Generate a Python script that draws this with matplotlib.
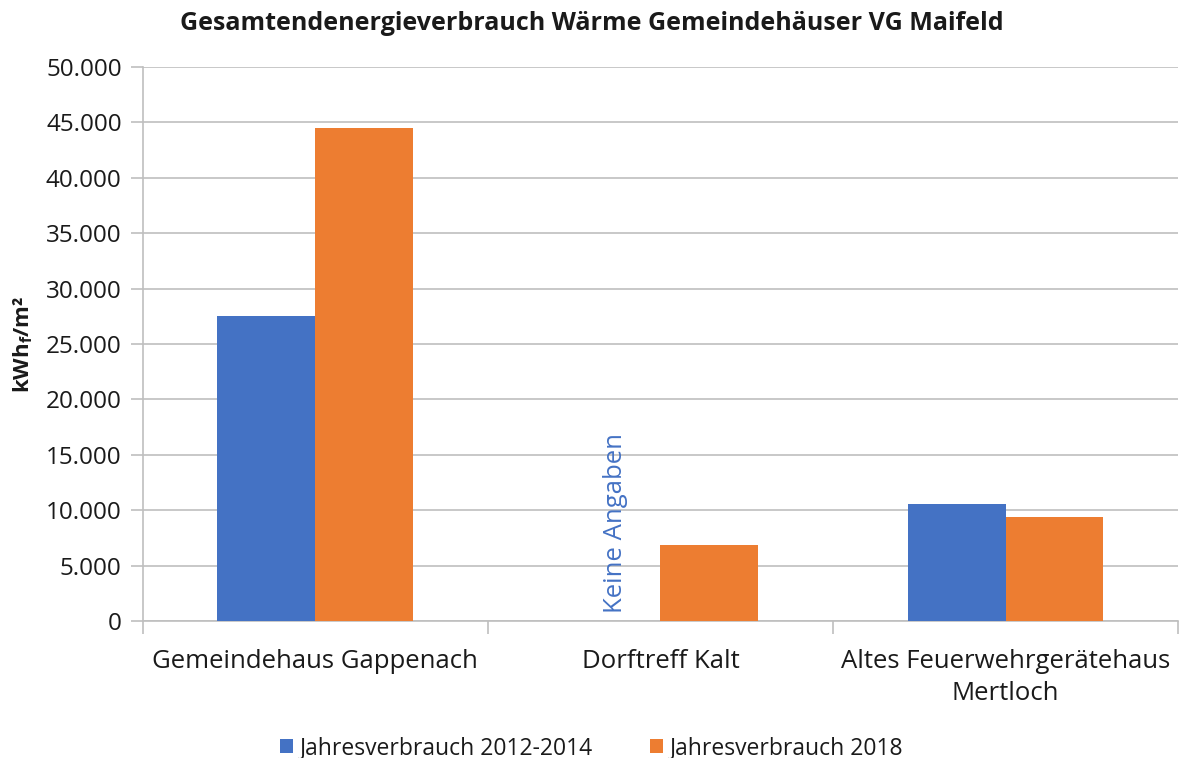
import matplotlib
matplotlib.use('Agg')
import matplotlib.pyplot as plt
from matplotlib.ticker import FuncFormatter, FixedLocator
import numpy as np

plt.rcParams['font.family'] = ['Open Sans', 'DejaVu Sans']

categories = ['Gemeindehaus Gappenach', 'Dorftreff Kalt', 'Altes Feuerwehrgerätehaus\nMertloch']
verbrauch_2012_2014 = [27500, np.nan, 10600]
verbrauch_2018 = [44500, 6850, 9400]
series_names = ['Jahresverbrauch 2012-2014', 'Jahresverbrauch 2018']
yticks = [0, 5000, 10000, 15000, 20000, 25000, 30000, 35000, 40000, 45000, 50000]

BLUE = '#4472C4'
ORANGE = '#ED7D31'
GRID = '#BFBFBF'
TEXT = '#1a1a1a'

fig = plt.figure(figsize=(11.83, 7.58), dpi=100)
ax = fig.add_axes([0.1205, 0.1807, 0.8755, 0.731])

x = np.arange(len(categories))
w = 0.283
ax.bar(x - w / 2, verbrauch_2012_2014, w, color=BLUE, label=series_names[0], zorder=3)
ax.bar(x + w / 2, verbrauch_2018, w, color=ORANGE, label=series_names[1], zorder=3)

# missing value note
ax.text(x[1] - w / 2 + 0.01, 700, 'Keine Angaben', rotation=90, color=BLUE,
        ha='center', va='bottom', fontsize=18.5, zorder=4)

ax.set_ylim(0, 50000)
ax.set_xlim(-0.5, 2.5)
ax.yaxis.set_major_locator(FixedLocator(yticks))
ax.yaxis.set_major_formatter(FuncFormatter(lambda v, p: f'{int(v):,}'.replace(',', '.')))
ax.grid(axis='y', color=GRID, linewidth=1.2, zorder=0)

ax.set_xticks(x)
ax.set_xticklabels(categories, fontsize=18.5, color=TEXT, linespacing=1.4)
ax.tick_params(axis='x', which='major', length=0, pad=20)
ax.set_xticks([-0.5, 0.5, 1.5, 2.5], minor=True)
ax.tick_params(axis='x', which='minor', length=9, color=GRID, width=1.2)
ax.tick_params(axis='y', length=9, color=GRID, width=1.2, labelsize=17.5,
               labelcolor=TEXT, pad=6)

for s in ['top', 'right']:
    ax.spines[s].set_visible(False)
ax.spines['left'].set_color(GRID)
ax.spines['left'].set_linewidth(1.2)
ax.spines['bottom'].set_color(GRID)
ax.spines['bottom'].set_linewidth(1.2)

ax.set_ylabel('kWh$_\\mathregular{f}$/m²', fontsize=16, fontweight='bold',
              labelpad=8, color=TEXT)

fig.suptitle('Gesamtendenergieverbrauch Wärme Gemeindehäuser VG Maifeld',
             fontsize=18, fontweight='bold', y=0.986, color=TEXT)

fig.legend(loc='lower center', bbox_to_anchor=(0.5, -0.03), ncol=2, frameon=False,
           fontsize=16.5, handlelength=0.55, handleheight=0.55, handletextpad=0.3,
           columnspacing=2.5, labelcolor=TEXT)

fig.savefig('out.png', dpi=100)
